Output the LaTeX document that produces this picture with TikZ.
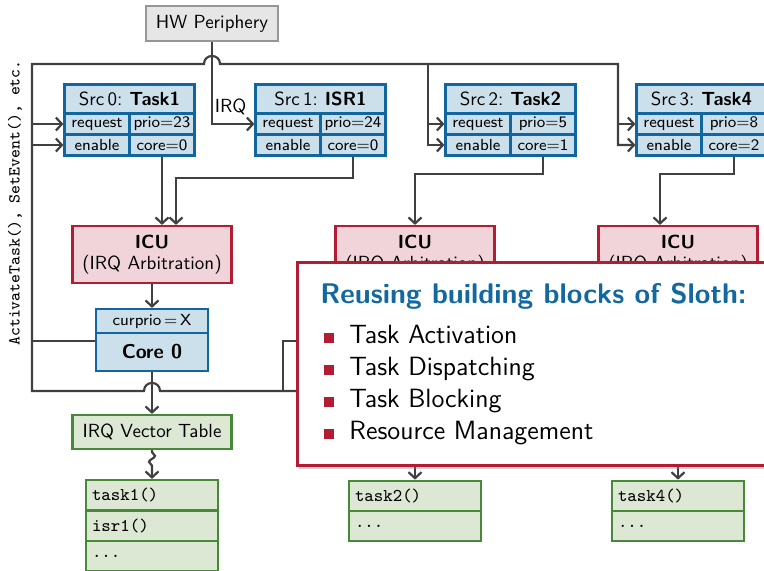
\documentclass[tikz,border=0pt]{standalone}
\usepackage{fontspec}
\usetikzlibrary{shadows,decorations.pathmorphing,arrows.meta}

\definecolor{srcfill}{RGB}{204,224,236}
\definecolor{srcedge}{RGB}{18,102,160}
\definecolor{icufill}{RGB}{240,212,217}
\definecolor{icuedge}{RGB}{180,28,52}
\definecolor{tabfill}{RGB}{220,232,212}
\definecolor{tabedge}{RGB}{70,138,56}
\definecolor{hwfill}{RGB}{230,230,230}
\definecolor{hwedge}{RGB}{150,150,150}
\definecolor{wire}{RGB}{64,64,64}
\definecolor{titleblue}{RGB}{18,104,160}

\newcommand{\slothbullet}{\textcolor{icuedge}{\rule{5pt}{5pt}}\hspace{7.5pt}}

\begin{document}
\begin{tikzpicture}[
            x = 0.5pt, y = -0.5pt,
            >={Straight Barb[length=3pt, width=6.5pt]},
            every node/.style={font=\sffamily\fontsize{9.5}{10.5}\selectfont, inner sep=0pt},
            line/.style={draw=wire, line width=1.1pt},
            hwbox/.style={draw=hwedge, fill=hwfill, line width=1.2pt, minimum width=66pt, minimum height=17.5pt},
            srchead/.style={draw=srcedge, fill=srcfill, line width=1.1pt, minimum width=65pt, minimum height=14.5pt},
            srccell/.style={draw=srcedge, fill=srcfill, line width=1.1pt, minimum width=32.5pt, minimum height=10.5pt, font=\sffamily\fontsize{8}{9}\selectfont},
            icubox/.style={draw=icuedge, fill=icufill, line width=1.1pt, minimum width=79.5pt, minimum height=28.5pt, align=center},
            corehead/.style={srccell, minimum width=56pt, minimum height=12pt},
            corebox/.style={draw=srcedge, fill=srcfill, line width=1.1pt, minimum width=56pt, minimum height=19pt, font=\sffamily\bfseries\fontsize{10}{11}\selectfont},
            ivtbox/.style={draw=tabedge, fill=tabfill, line width=1.1pt, minimum width=79.5pt, minimum height=17pt},
            tabrow/.style={draw=tabedge, fill=tabfill, line width=1.1pt, text width=60pt, inner xsep=3pt, minimum height=15.25pt, align=left, font=\ttfamily\fontsize{9}{10}\selectfont},
            popup/.style={draw=icuedge, fill=white, line width=1.5pt, drop shadow={shadow xshift=1pt, shadow yshift=-2pt, opacity=0.35}},
            item/.style={anchor=base west, font=\sffamily\fontsize{13.2}{15}\selectfont},
            ]

        \useasboundingbox (0, 0) rectangle (764, 570);
        \clip (0, 0) rectangle (764, 570);

        \node[hwbox] (hw) at (212, 23.5) {HW Periphery};
        \node[font=\ttfamily\fontsize{8.4}{9}\selectfont, rotate=90] (api) at (15, 203) {ActivateTask(), SetEvent(), etc.};

        % interrupt sources
        \node[srchead] (s0) at (129.5, 99) {Src\,0:\hspace{3.5pt}\textbf{Task1}};
        \node[srccell] (s0req) at (97, 124) {request};
        \node[srccell] (s0prio) at (162, 124) {prio=23};
        \node[srccell] (s0en) at (97, 145) {enable};
        \node[srccell] (s0core) at (162, 145) {core=0};

        \node[srchead] (s1) at (320.5, 99) {Src\,1:\hspace{3.5pt}\textbf{ISR1}};
        \node[srccell] (s1req) at (288, 124) {request};
        \node[srccell] (s1prio) at (353, 124) {prio=24};
        \node[srccell] (s1en) at (288, 145) {enable};
        \node[srccell] (s1core) at (353, 145) {core=0};

        \node[srchead] (s2) at (510.5, 99) {Src\,2:\hspace{3.5pt}\textbf{Task2}};
        \node[srccell] (s2req) at (478, 124) {request};
        \node[srccell] (s2prio) at (543, 124) {prio=5};
        \node[srccell] (s2en) at (478, 145) {enable};
        \node[srccell] (s2core) at (543, 145) {core=1};

        \node[srchead] (s3) at (701.5, 99) {Src\,3:\hspace{3.5pt}\textbf{Task4}};
        \node[srccell] (s3req) at (669, 124) {request};
        \node[srccell] (s3prio) at (734, 124) {prio=8};
        \node[srccell] (s3en) at (669, 145) {enable};
        \node[srccell] (s3core) at (734, 145) {core=2};

        % arbitration units
        \node[icubox] (icu0) at (152, 254.5) {\textbf{ICU}\\(IRQ Arbitration)};
        \node[icubox] (icu1) at (415, 254.5) {\textbf{ICU}\\(IRQ Arbitration)};
        \node[icubox] (icu2) at (678, 254.5) {\textbf{ICU}\\(IRQ Arbitration)};

        \node[corehead] (core0h) at (152, 321) {curprio\,=\,X};
        \node[corebox] (core0) at (152, 352) {Core 0};

        \node[ivtbox] (ivt0) at (152, 432) {IRQ Vector Table};

        % vector tables
        \node[tabrow] (t0a) at (152, 495.25) {task1()};
        \node[tabrow] (t0b) at (152, 525.75) {isr1()};
        \node[tabrow] (t0c) at (152, 556.25) {...};
        \node[tabrow] (t1a) at (415, 496) {task2()};
        \node[tabrow] (t1b) at (415, 526) {...};
        \node[tabrow] (t2a) at (678, 496) {task4()};
        \node[tabrow] (t2b) at (678, 526) {...};

        \coordinate (busTL) at (32, 64);
        \coordinate (busBL) at (32, 391);
        \coordinate (busR) at (720, 391);
        \coordinate (tap2) at (428, 64);
        \coordinate (tap3) at (618, 64);
        \coordinate (tapc1) at (283, 391);
        \coordinate (core1in) at (340, 341);
        \coordinate (ivt1) at (415, 440);
        \coordinate (ivt2) at (678, 440);

        % system call bus
        \draw[line, ->] (busR) -- ([xshift=4pt]core0.south |- busBL)
            .. controls +(0, -10.7) and +(0, -10.7) .. ([xshift=-4pt]core0.south |- busBL)
            -- (busBL) -- (busTL) -- ([xshift=-4pt]hw.south |- busTL)
            .. controls +(0, -10.7) and +(0, -10.7) .. ([xshift=4pt]hw.south |- busTL)
            -- (tap3) |- (s3en);
        \draw[line, ->] (busTL |- s0req) -- (s0req);
        \draw[line, ->] (busTL |- s0en) -- (s0en);
        \draw[line, ->] (tap2) |- (s2en);
        \draw[line, ->] (tap2 |- s2req) -- (s2req);
        \draw[line, ->] (tap3 |- s3req) -- (s3req);
        \draw[line, ->] (hw) |- (s1req) node[pos=0.72, above=4pt] {IRQ};

        \draw[line, ->] (s0core) -- (s0core |- icu0.north);
        \draw[line, ->] (s1core.south) -- ++(0, 21.5) -| ([xshift=12pt]icu0.north);
        \draw[line, ->] (s2core.south) -- ++(0, 17.5) -| (icu1.north);
        \draw[line, ->] (s3core.south) -- ++(0, 17.5) -| ([xshift=-9pt]icu2.north);

        \draw[line, ->] (icu0) -- (core0h);
        \draw[line] ([yshift=5.5pt]core0.west) -- ([yshift=5.5pt]core0.west -| busTL);
        \draw[line, ->] (core0) -- (ivt0);
        \draw[line] (tapc1) |- (core1in);
        \draw[line, ->, decorate, decoration={snake, amplitude=1.5pt, segment length=6pt, pre length=1pt, post length=4pt}] (ivt0) -- (t0a);
        \draw[line, ->] (ivt1) -- (t1a);
        \draw[line, ->] (ivt2) -- (t2a);

        % overlay
        \node[popup, minimum width=262pt, minimum height=101.5pt] (popup) at (559, 363.5) {};
        \node[anchor=base west, text=titleblue, font=\sffamily\bfseries\fontsize{14.2}{16}\selectfont] (title) at (320, 303) {Reusing building blocks of Sloth:};
        \node[item] (it1) at (324, 343) {\slothbullet Task Activation};
        \node[item] (it2) at (324, 375) {\slothbullet Task Dispatching};
        \node[item] (it3) at (324, 407) {\slothbullet Task Blocking};
        \node[item] (it4) at (324, 439) {\slothbullet Resource Management};
    \end{tikzpicture}
\end{document}
